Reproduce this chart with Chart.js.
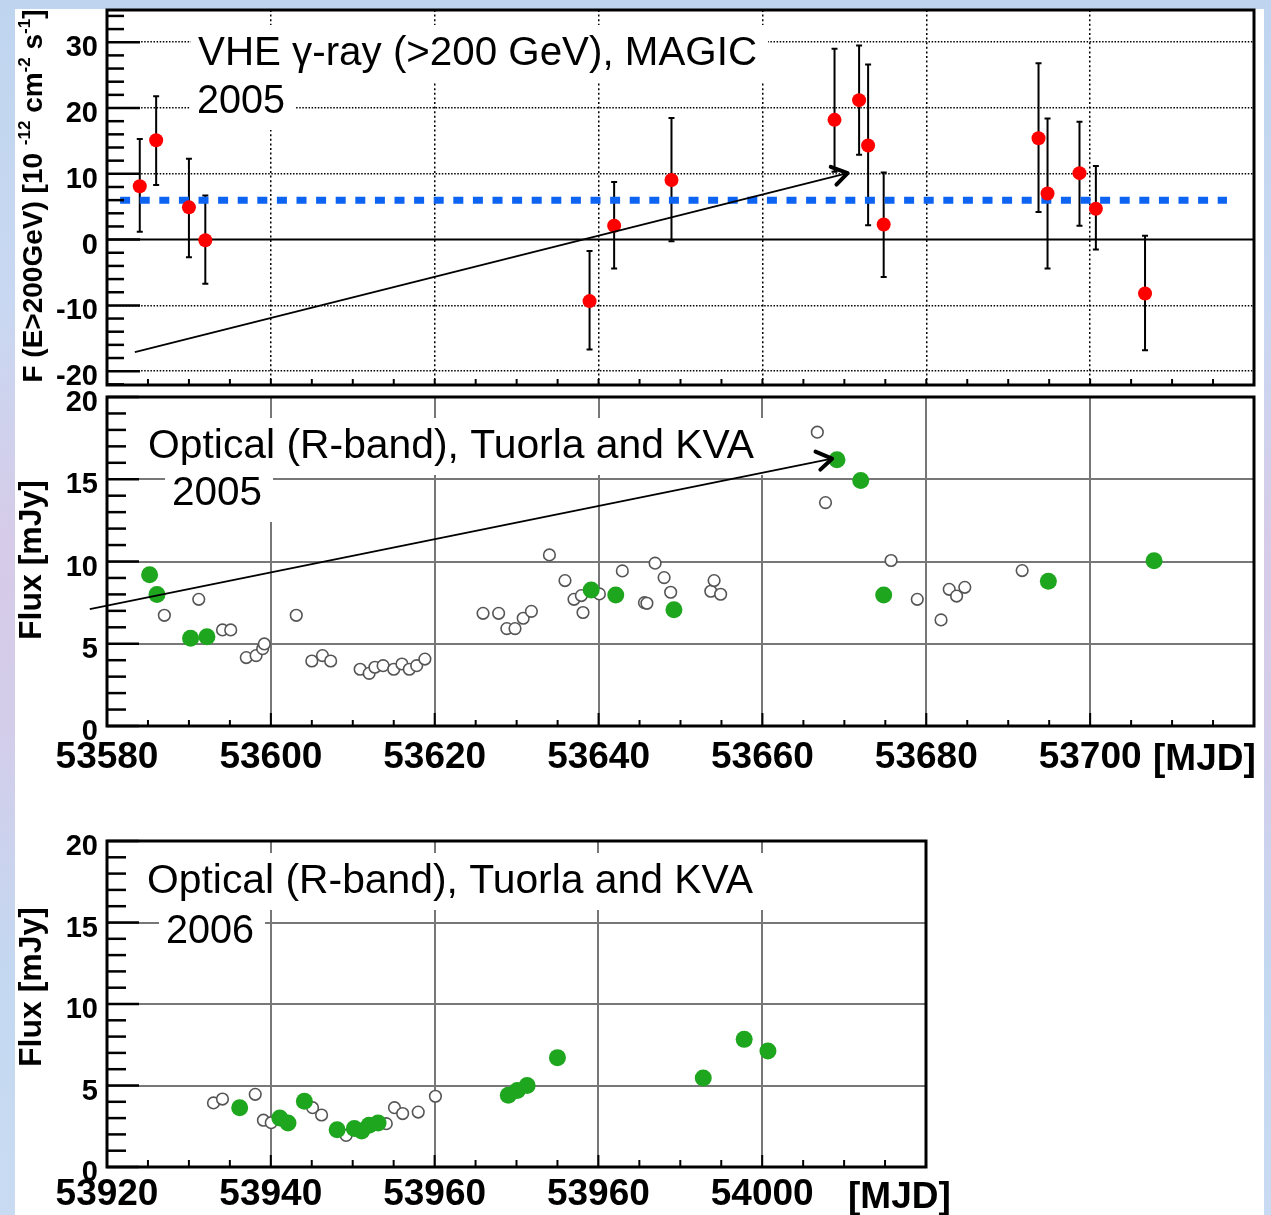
<!DOCTYPE html>
<html>
<head>
<meta charset="utf-8">
<title>VHE and optical light curves</title>
<script src="https://cdn.jsdelivr.net/npm/chart.js@4.4.1/dist/chart.umd.min.js"></script>
<style>
  html, body { margin: 0; padding: 0; }
  body {
    width: 1271px; height: 1215px; overflow: hidden; position: relative;
    background: linear-gradient(180deg, #bfd5ef 0%, #c9d8f2 25%, #d6cbe8 45%, #d3cdea 60%, #c4d8f1 80%, #c8dbf2 100%);
  }
  #sheet { position: absolute; left: 15px; top: 9px; width: 1249px; height: 1206px; background: #fff; }
  canvas { position: absolute; left: 0; }
</style>
</head>
<body>
<div id="sheet"></div>
<canvas id="vhe"  width="1271" height="392" style="top:0px"></canvas>
<canvas id="opt5" width="1271" height="415" style="top:385px"></canvas>
<canvas id="opt6" width="1271" height="415" style="top:800px"></canvas>

<script>
/* ============================================================
   Data
   ============================================================ */

// ── VHE gamma-ray flux, MAGIC 2005 (10^-12 cm^-2 s^-1) ──
const vheMjd   = [53584.0, 53586.0, 53590.0, 53592.0, 53638.9, 53641.9, 53648.9, 53668.8,
                  53671.8, 53672.9, 53674.8, 53693.7, 53694.8, 53698.7, 53700.7, 53706.7];
const vheFlux  = [8.1, 15.1, 4.9, -0.1, -9.35, 2.1, 9.05, 18.2, 21.2, 14.3, 2.3, 15.4, 7.0, 10.1, 4.7, -8.2];
const vheErrLo = [1.2, 8.3, -2.7, -6.7, -16.7, -4.4, -0.25, 10.3, 12.9, 2.2, -5.7, 4.2, -4.4, 2.1, -1.5, -16.8];
const vheErrHi = [15.3, 21.8, 12.3, 6.7, -1.75, 8.75, 18.5, 29.0, 29.5, 26.6, 10.2, 26.8, 18.4, 17.9, 11.2, 0.6];
const vheMeanMjd  = [53581.6, 53716.7];
const vheMeanFlux = 6.0;

// ── Optical R-band 2005 (mJy): simultaneous (green) and other nights (open) ──
const opt5SimMjd  = [53585.2, 53586.1, 53590.2, 53592.2, 53639.1, 53642.1, 53649.2, 53669.1,
                     53672.0, 53674.8, 53694.9, 53707.8];
const opt5SimFlux = [9.2, 8.0, 5.33, 5.43, 8.27, 7.97, 7.06, 16.18, 14.92, 7.97, 8.8, 10.04];

const opt5OthMjd  = [53587.0, 53591.2, 53594.1, 53595.1, 53597.0, 53598.2, 53599.0, 53599.2, 53603.1, 53605.0,
                     53606.3, 53607.3, 53610.9, 53612.0, 53612.7, 53613.7, 53615.0, 53616.0, 53616.9, 53617.8,
                     53618.8, 53625.9, 53627.8, 53628.8, 53629.8, 53630.8, 53631.8, 53634.0, 53635.9, 53637.0,
                     53637.9, 53638.1, 53640.1, 53642.9, 53645.6, 53645.9, 53646.9, 53648.0, 53648.8, 53653.7,
                     53654.1, 53654.9, 53666.7, 53667.7, 53675.7, 53678.9, 53681.8, 53682.8, 53683.7, 53684.7,
                     53691.7];
const opt5OthFlux = [6.73, 7.7, 5.84, 5.84, 4.16, 4.28, 4.7, 4.99, 6.73, 3.95,
                     4.28, 3.95, 3.45, 3.2, 3.57, 3.67, 3.45, 3.77, 3.45, 3.67,
                     4.07, 6.85, 6.85, 5.92, 5.92, 6.55, 6.97, 10.4, 8.84, 7.7,
                     7.93, 6.9, 8.03, 9.43, 7.5, 7.46, 9.9, 9.02, 8.13, 8.19,
                     8.84, 8.01, 17.86, 13.58, 10.06, 7.7, 6.45, 8.31, 7.9, 8.43,
                     9.45];

// ── Optical R-band 2006 (mJy) ──
const opt6SimMjd  = [53936.2, 53941.1, 53942.1, 53944.1, 53948.1, 53950.2, 53951.1, 53952.0, 53953.1,
                     53969.0, 53970.1, 53971.3, 53975.0, 53992.8, 53997.8, 54000.7];
const opt6SimFlux = [3.64, 3.01, 2.7, 4.03, 2.29, 2.36, 2.21, 2.56, 2.7, 4.4, 4.7, 5.0, 6.71, 5.46, 7.83, 7.12];

const opt6OthMjd  = [53933.0, 53934.1, 53938.1, 53939.1, 53940.05, 53945.1, 53946.2, 53949.2,
                     53954.1, 53955.1, 53956.1, 53958.0, 53960.1];
const opt6OthFlux = [3.93, 4.17, 4.46, 2.87, 2.72, 3.64, 3.19, 1.94, 2.66, 3.64, 3.28, 3.37, 4.34];

// ── Axis ticks and labels ──
const vheTicks      = [-20, -10, 0, 10, 20, 30];
const fluxTicks     = [0, 5, 10, 15, 20];
const mjdTicks2005  = [53580, 53600, 53620, 53640, 53660, 53680, 53700];
const mjdLabels2005 = ["53580", "53600", "53620", "53640", "53660", "53680", "53700"];
const mjdTicks2006  = [53920, 53940, 53960, 53980, 54000];
const mjdLabels2006 = ["53920", "53940", "53960", "53960", "54000"];   // as printed in the figure

// ── Colours ──
const RED   = "#ff0000";
const GREEN = "#1ea61e";
const BLUE  = "#0d63f2";
const FONT  = '"Liberation Sans", Arial, Helvetica, sans-serif';

Chart.defaults.font.family = FONT;
Chart.defaults.color = "#000";

const pts = (xs, ys) => xs.map((x, i) => ({ x, y: ys[i] }));
const fixTicks = list => scale => { scale.ticks = list.map(v => ({ value: v })); };
// fixed axis sizes, no automatic label padding (layout is set by hand)
const fitX = h => s => { s.height = h; s.paddingLeft = 0; s.paddingRight = 0; };
const fitY = w => s => { s.width = w; s.paddingTop = 0; s.paddingBottom = 0; };

/* ================================================================
   DECORATION PLUGIN  (ROOT-like frame, ticks, notes, arrows)
   ================================================================ */
const decor = {
  id: "decor",

  beforeDatasetsDraw(chart, args, o) {
    const { ctx, chartArea: a } = chart;
    const x = chart.scales.x, y = chart.scales.y;
    ctx.save();

    // solid zero line
    if (o.zeroLine) {
      const py = y.getPixelForValue(0);
      ctx.strokeStyle = "#000";
      ctx.lineWidth = 2;
      ctx.beginPath(); ctx.moveTo(a.left, py); ctx.lineTo(a.right, py); ctx.stroke();
    }

    // error bars
    if (o.errors) {
      const e = o.errors;
      ctx.strokeStyle = "#000";
      ctx.lineWidth = 2;
      e.x.forEach((mx, i) => {
        const px = x.getPixelForValue(mx);
        const p0 = y.getPixelForValue(e.lo[i]);
        const p1 = y.getPixelForValue(e.hi[i]);
        ctx.beginPath();
        ctx.moveTo(px, p0); ctx.lineTo(px, p1);
        ctx.moveTo(px - 3, p0); ctx.lineTo(px + 3, p0);
        ctx.moveTo(px - 3, p1); ctx.lineTo(px + 3, p1);
        ctx.stroke();
      });
    }

    // text notes on white boxes, stretched to the printed width
    ctx.font = "40px " + FONT;
    ctx.textAlign = "left";
    ctx.textBaseline = "alphabetic";
    (o.notes || []).forEach(n => {
      const w = ctx.measureText(n.text).width;
      ctx.fillStyle = "#fff";
      ctx.fillRect(n.x - 7, n.y - 40, n.w + 18, 57);
      ctx.fillStyle = "#000";
      ctx.save();
      ctx.translate(n.x, n.y);
      ctx.scale(n.w / w, 1);
      ctx.fillText(n.text, 0, 0);
      ctx.restore();
    });
    ctx.restore();
  },

  afterDraw(chart, args, o) {
    const { ctx, chartArea: a } = chart;
    const x = chart.scales.x, y = chart.scales.y;
    ctx.save();
    ctx.strokeStyle = "#000";

    // y ticks, pointing inwards
    ctx.lineWidth = 2.5;
    const ym = o.yMinor;
    for (let v = Math.ceil(y.min / ym.step) * ym.step; v <= y.max + 1e-9; v += ym.step) {
      const major = Math.abs(v % ym.major) < 1e-6;
      const py = y.getPixelForValue(v);
      ctx.beginPath();
      ctx.moveTo(a.left, py);
      ctx.lineTo(a.left + (major ? ym.majorLen : ym.minorLen), py);
      ctx.stroke();
    }

    // x ticks, pointing up from the bottom axis
    ctx.lineWidth = 2;
    const xm = o.xMinor;
    for (let v = Math.ceil(x.min / xm.step) * xm.step; v <= x.max + 1e-9; v += xm.step) {
      const major = Math.abs(v % xm.major) < 1e-6;
      const px = x.getPixelForValue(v);
      ctx.beginPath();
      ctx.moveTo(px, a.bottom);
      ctx.lineTo(px, a.bottom - (major ? xm.majorLen : xm.minorLen));
      ctx.stroke();
    }

    // frame
    ctx.lineWidth = 3;
    ctx.strokeRect(a.left, a.top, a.right - a.left, a.bottom - a.top);

    // arrow
    if (o.arrow) {
      const x0 = x.getPixelForValue(o.arrow.from[0]), y0 = y.getPixelForValue(o.arrow.from[1]);
      const x1 = x.getPixelForValue(o.arrow.to[0]),   y1 = y.getPixelForValue(o.arrow.to[1]);
      const ang = Math.atan2(y1 - y0, x1 - x0);
      ctx.lineWidth = 1.8;
      ctx.beginPath(); ctx.moveTo(x0, y0); ctx.lineTo(x1, y1); ctx.stroke();
      ctx.lineWidth = 4;
      ctx.lineCap = "round";
      ctx.lineJoin = "round";
      ctx.beginPath();
      ctx.moveTo(x1 - 16 * Math.cos(ang - 0.55), y1 - 16 * Math.sin(ang - 0.55));
      ctx.lineTo(x1, y1);
      ctx.lineTo(x1 - 18 * Math.cos(ang + 0.6), y1 - 18 * Math.sin(ang + 0.6));
      ctx.stroke();
      ctx.lineCap = "butt";
    }

    // rotated y title with superscripts
    if (o.yTitle) {
      const t = o.yTitle;
      ctx.fillStyle = "#000";
      ctx.textAlign = "left";
      ctx.textBaseline = "alphabetic";
      const fontOf = p => "bold " + (p.sup ? t.supSize : t.size) + "px " + FONT;
      let total = 0;
      t.parts.forEach(p => { ctx.font = fontOf(p); total += ctx.measureText(p.t).width; });
      ctx.translate(t.x, t.cy + total / 2);
      ctx.rotate(-Math.PI / 2);
      let cx = 0;
      t.parts.forEach(p => {
        ctx.font = fontOf(p);
        ctx.fillText(p.t, cx, p.sup ? -t.rise : 0);
        cx += ctx.measureText(p.t).width;
      });
      ctx.setTransform(1, 0, 0, 1, 0, 0);
    }

    // unit after the x labels
    if (o.unit) {
      ctx.fillStyle = "#000";
      ctx.font = "bold 37px " + FONT;
      ctx.textAlign = "left";
      ctx.textBaseline = "alphabetic";
      ctx.fillText(o.unit.text, o.unit.x, o.unit.y);
    }
    ctx.restore();
  }
};

/* ================================================================
   PANEL 1 — VHE gamma-ray light curve
   ================================================================ */
new Chart(document.getElementById("vhe"), {
  type: "scatter",
  data: {
    datasets: [
      {
        label: "VHE flux",
        data: pts(vheMjd, vheFlux),
        pointRadius: 7,
        pointBackgroundColor: RED,
        pointBorderWidth: 0
      },
      {
        label: "mean",
        data: pts(vheMeanMjd, vheMeanMjd.map(() => vheMeanFlux)),
        showLine: true,
        borderColor: BLUE,
        borderWidth: 7,
        borderDash: [10, 9.6],
        pointRadius: 0
      }
    ]
  },
  options: {
    responsive: false,
    animation: false,
    events: [],
    layout: { padding: { top: 10, right: 17, left: 0, bottom: 0 } },
    plugins: {
      legend: { display: false },
      tooltip: { enabled: false },
      decor: {
        zeroLine: true,
        errors: { x: vheMjd, lo: vheErrLo, hi: vheErrHi },
        notes: [
          { text: "VHE \u03b3-ray (>200 GeV), MAGIC", x: 198, y: 65, w: 559 },
          { text: "2005", x: 197, y: 113, w: 88 }
        ],
        yMinor: { step: 2, major: 10, minorLen: 17, majorLen: 33 },
        xMinor: { step: 5, major: 20, minorLen: 6, majorLen: 6 },
        arrow: { from: [53583.4, -17.1], to: [53670.4, 10.1] },
        yTitle: {
          parts: [
            { t: "F (E>200GeV) [10 " }, { t: "-12", sup: true },
            { t: " cm" }, { t: "-2", sup: true },
            { t: " s" }, { t: "-1", sup: true }, { t: "]" }
          ],
          size: 28, supSize: 17, rise: 12, x: 42, cy: 196
        }
      }
    },
    scales: {
      x: {
        type: "linear", min: 53580, max: 53720,
        afterBuildTicks: fixTicks(mjdTicks2005),
        afterFit: fitX(4),
        ticks: { display: false },
        grid: { color: "#000", lineWidth: 1.5, drawTicks: false },
        border: { display: false, dash: [2, 2.6] }
      },
      y: {
        min: -22.1, max: 34.9,
        afterBuildTicks: fixTicks(vheTicks),
        afterFit: fitY(107),
        ticks: { font: { size: 29, weight: "bold" }, padding: 9, labelOffset: 6, callback: v => String(v) },
        grid: {
          color: c => (c.tick && c.tick.value === 0) ? "rgba(0,0,0,0)" : "#000",
          lineWidth: 1.5, drawTicks: false
        },
        border: { display: false, dash: [1.5, 1.6] }
      }
    }
  },
  plugins: [decor]
});

/* ================================================================
   PANEL 2 — Optical 2005
   ================================================================ */
new Chart(document.getElementById("opt5"), {
  type: "scatter",
  data: {
    datasets: [
      {
        label: "simultaneous",
        data: pts(opt5SimMjd, opt5SimFlux),
        pointRadius: 8.5,
        pointBackgroundColor: GREEN,
        pointBorderWidth: 0
      },
      {
        label: "other nights",
        data: pts(opt5OthMjd, opt5OthFlux),
        pointRadius: 5.8,
        pointBackgroundColor: "#fff",
        pointBorderColor: "#555",
        pointBorderWidth: 1.6
      }
    ]
  },
  options: {
    responsive: false,
    animation: false,
    events: [],
    layout: { padding: { top: 12, right: 17, left: 0, bottom: 0 } },
    plugins: {
      legend: { display: false },
      tooltip: { enabled: false },
      decor: {
        notes: [
          { text: "Optical (R-band), Tuorla and KVA", x: 148, y: 73, w: 606 },
          { text: "2005", x: 172, y: 120, w: 90 }
        ],
        yMinor: { step: 1, major: 5, minorLen: 19, majorLen: 32 },
        xMinor: { step: 5, major: 20, minorLen: 6, majorLen: 13 },
        arrow: { from: [53577.9, 7.1], to: [53668.5, 16.25] },
        yTitle: { parts: [{ t: "Flux [mJy]" }], size: 32, x: 41, cy: 175 },
        unit: { text: "[MJD]", x: 1153, y: 385 }
      }
    },
    scales: {
      x: {
        type: "linear", min: 53580, max: 53720,
        afterBuildTicks: fixTicks(mjdTicks2005),
        afterFit: fitX(74),
        ticks: { font: { size: 37, weight: "bold" }, padding: 10, callback: (v, i) => mjdLabels2005[i] },
        grid: { color: "#777", lineWidth: 2, drawTicks: false },
        border: { display: false }
      },
      y: {
        min: 0, max: 20,
        afterBuildTicks: fixTicks(fluxTicks),
        afterFit: fitY(107),
        ticks: { font: { size: 29, weight: "bold" }, padding: 9, labelOffset: 6 },
        grid: { color: "#777", lineWidth: 2, drawTicks: false },
        border: { display: false }
      }
    }
  },
  plugins: [decor]
});

/* ================================================================
   PANEL 3 — Optical 2006
   ================================================================ */
new Chart(document.getElementById("opt6"), {
  type: "scatter",
  data: {
    datasets: [
      {
        label: "simultaneous",
        data: pts(opt6SimMjd, opt6SimFlux),
        pointRadius: 8.5,
        pointBackgroundColor: GREEN,
        pointBorderWidth: 0
      },
      {
        label: "other nights",
        data: pts(opt6OthMjd, opt6OthFlux),
        pointRadius: 5.8,
        pointBackgroundColor: "#fff",
        pointBorderColor: "#555",
        pointBorderWidth: 1.6
      }
    ]
  },
  options: {
    responsive: false,
    animation: false,
    events: [],
    layout: { padding: { top: 41, right: 345, left: 0, bottom: 0 } },
    plugins: {
      legend: { display: false },
      tooltip: { enabled: false },
      decor: {
        notes: [
          { text: "Optical (R-band), Tuorla and KVA", x: 147, y: 93, w: 606 },
          { text: "2006", x: 166, y: 143, w: 88 }
        ],
        yMinor: { step: 1, major: 5, minorLen: 19, majorLen: 32 },
        xMinor: { step: 5, major: 20, minorLen: 7, majorLen: 12 },
        yTitle: { parts: [{ t: "Flux [mJy]" }], size: 32, x: 41, cy: 187 },
        unit: { text: "[MJD]", x: 848, y: 408 }
      }
    },
    scales: {
      x: {
        type: "linear", min: 53920, max: 54020,
        afterBuildTicks: fixTicks(mjdTicks2006),
        afterFit: fitX(48),
        ticks: { font: { size: 37, weight: "bold" }, padding: 6, callback: (v, i) => mjdLabels2006[i] },
        grid: { color: "#777", lineWidth: 2, drawTicks: false },
        border: { display: false }
      },
      y: {
        min: 0, max: 20,
        afterBuildTicks: fixTicks(fluxTicks),
        afterFit: fitY(107),
        ticks: { font: { size: 29, weight: "bold" }, padding: 9, labelOffset: 6 },
        grid: { color: "#777", lineWidth: 2, drawTicks: false },
        border: { display: false }
      }
    }
  },
  plugins: [decor]
});
</script>
</body>
</html>
